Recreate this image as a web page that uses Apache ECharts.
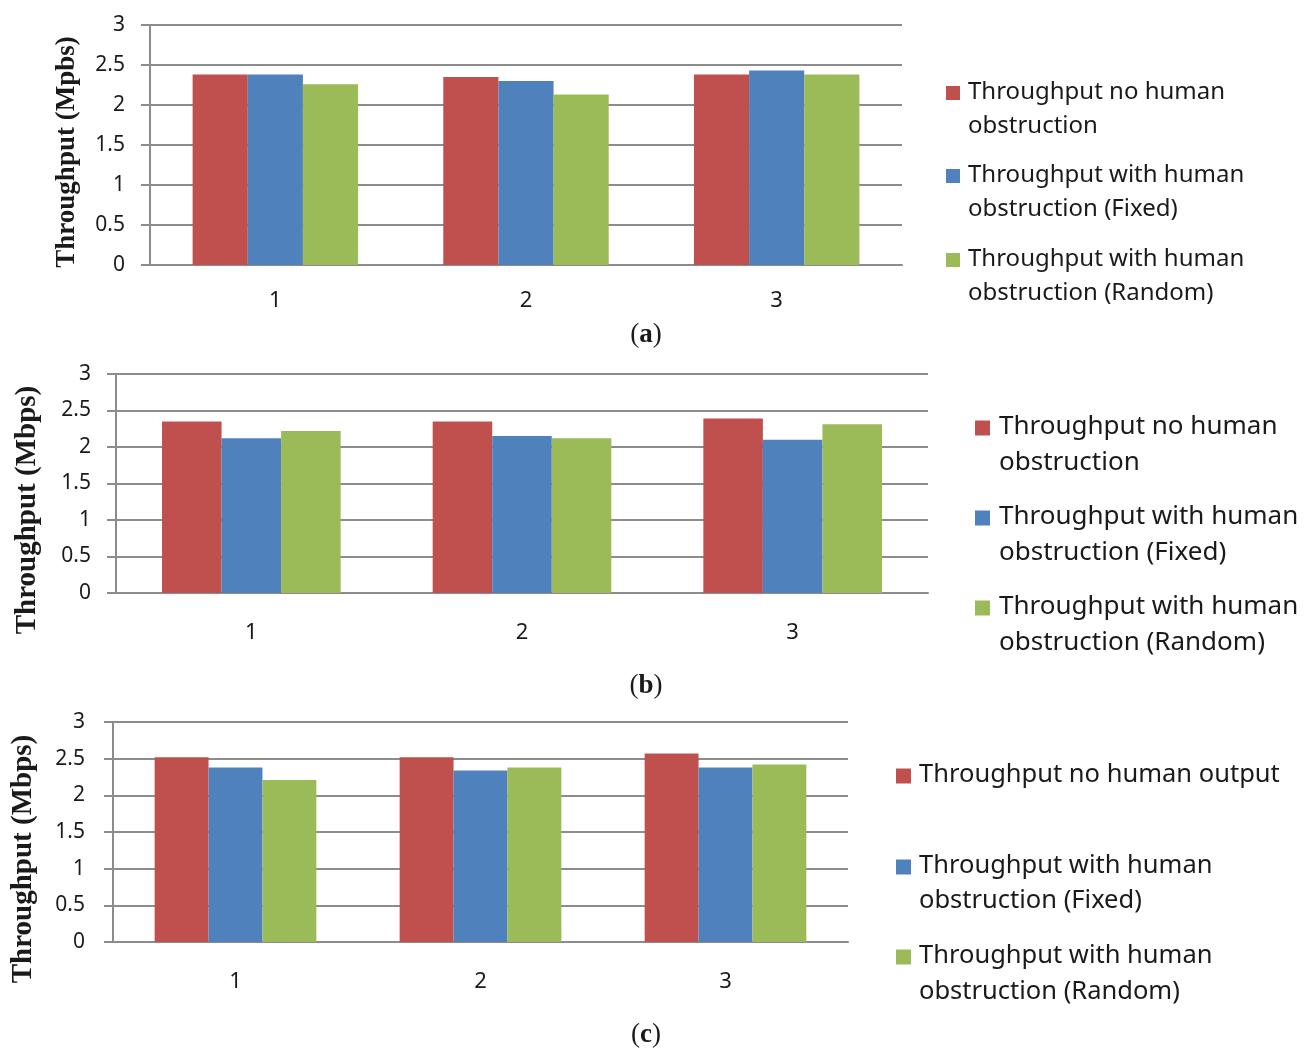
<!DOCTYPE html>
<html><head><meta charset="utf-8">
<script src="https://cdn.jsdelivr.net/npm/echarts@6/dist/echarts.min.js"></script>
<style>html,body{margin:0;padding:0;background:#fff}#c{width:1307px;height:1049px}</style>
</head><body><div id="c"></div>
<script>
// ---- data ----
const categories = ['1', '2', '3'];
const seriesNames = [
  'Throughput no human obstruction',
  'Throughput with human obstruction (Fixed)',
  'Throughput with human obstruction (Random)'
];
const seriesNamesC = [
  'Throughput no human output',
  'Throughput with human obstruction (Fixed)',
  'Throughput with human obstruction (Random)'
];
const aNoObstruction = [2.38, 2.35, 2.38];
const aFixed = [2.38, 2.30, 2.43];
const aRandom = [2.26, 2.13, 2.38];
const bNoObstruction = [2.35, 2.35, 2.39];
const bFixed = [2.12, 2.15, 2.10];
const bRandom = [2.22, 2.12, 2.31];
const cNoObstruction = [2.52, 2.52, 2.57];
const cFixed = [2.38, 2.34, 2.38];
const cRandom = [2.21, 2.38, 2.42];
const yAxisNames = ['Throughput (Mpbs)', 'Throughput (Mbps)', 'Throughput (Mbps)'];
const captions = ['a', 'b', 'c'];
const legendLinesA = [['Throughput no human', 'obstruction'], ['Throughput with human', 'obstruction (Fixed)'], ['Throughput with human', 'obstruction (Random)']];
const legendLinesB = legendLinesA;
const legendLinesC = [['Throughput no human output'], ['Throughput with human', 'obstruction (Fixed)'], ['Throughput with human', 'obstruction (Random)']];

// ---- layout / style ----
const colors = ['#C0504D', '#4F81BD', '#9BBB59'];
const panels = [
  { data: [aNoObstruction, aFixed, aRandom], names: seriesNames, legend: legendLinesA,
    grid: { left: 150, top: 25, width: 752, height: 240 }, labMargin: 25, xMargin: 25,
    nameX: 67, nameY: 152, nameSize: 27, capY: 335,
    legX: 946, legTextX: 968, legY: [[92,126],[175,209],[259,293]], legSize: 24, sq: 14 },
  { data: [bNoObstruction, bFixed, bRandom], names: seriesNames, legend: legendLinesB,
    grid: { left: 116, top: 374, width: 812, height: 219 }, labMargin: 25, xMargin: 29,
    nameX: 28, nameY: 510, nameSize: 29, capY: 686,
    legX: 975, legTextX: 999, legY: [[427,463],[517,553],[607,643]], legSize: 26, sq: 15 },
  { data: [cNoObstruction, cFixed, cRandom], names: seriesNamesC, legend: legendLinesC,
    grid: { left: 113, top: 722, width: 735, height: 220 }, labMargin: 28, xMargin: 29,
    nameX: 24, nameY: 859, nameSize: 29, capY: 1035,
    legX: 896, legTextX: 919, legY: [[775],[866,901],[956,992]], legSize: 25.5, sq: 15 }
];
const txt = '#1a1a1a';
const lineGray = '#8c8c8c';
const sans = 'Noto Sans';
const serif = 'Liberation Serif';

const grids = [], xAxes = [], yAxes = [], series = [], graphics = [];
panels.forEach((p, i) => {
  grids.push(Object.assign({ containLabel: false }, p.grid));
  xAxes.push({
    type: 'category', gridIndex: i, data: categories,
    axisLine: { lineStyle: { color: lineGray, width: 2 } },
    axisTick: { show: false },
    axisLabel: { color: txt, fontSize: 22, fontFamily: sans, margin: p.xMargin }
  });
  yAxes.push({
    type: 'value', gridIndex: i, min: 0, max: 3, interval: 0.5,
    axisLine: { show: true, lineStyle: { color: lineGray, width: 2 } },
    axisTick: { show: true, length: 9, lineStyle: { color: lineGray, width: 2 } },
    splitLine: { lineStyle: { color: lineGray, width: 2 } },
    axisLabel: { color: txt, fontSize: 21, fontFamily: sans, margin: p.labMargin }
  });
  p.data.forEach((vals, k) => {
    series.push({
      type: 'bar', name: p.names[k], xAxisIndex: i, yAxisIndex: i, data: vals,
      barGap: '0%', barCategoryGap: '34%',
      itemStyle: { color: colors[k] }, silent: true
    });
  });
  graphics.push({
    type: 'text', x: p.nameX, y: p.nameY, rotation: Math.PI / 2,
    style: { text: yAxisNames[i], font: 'bold ' + p.nameSize + 'px "' + serif + '"', fill: txt, textAlign: 'center', textVerticalAlign: 'middle' }
  });
  graphics.push({
    type: 'text', x: 646, y: p.capY,
    style: {
      text: '{p|(}{b|' + captions[i] + '}{p|)}', textAlign: 'center', textVerticalAlign: 'middle',
      rich: {
        p: { fontFamily: serif, fontSize: 27, fill: txt, color: txt },
        b: { fontFamily: serif, fontSize: 27, fontWeight: 'bold', fill: txt, color: txt }
      }
    }
  });
  p.legend.forEach((lines, k) => {
    graphics.push({
      type: 'rect', shape: { x: p.legX, y: p.legY[k][0] - p.sq / 2 + 1, width: p.sq, height: p.sq },
      style: { fill: colors[k] }
    });
    lines.forEach((ln, j) => {
      graphics.push({
        type: 'text', x: p.legTextX, y: p.legY[k][j],
        style: { text: ln, font: p.legSize + 'px "' + sans + '"', fill: txt, textAlign: 'left', textVerticalAlign: 'middle' }
      });
    });
  });
});

const chart = echarts.init(document.getElementById('c'), null, { renderer: 'canvas' });
chart.setOption({
  backgroundColor: '#fff',
  animation: false,
  grid: grids, xAxis: xAxes, yAxis: yAxes, series: series, graphic: graphics
});
</script></body></html>
